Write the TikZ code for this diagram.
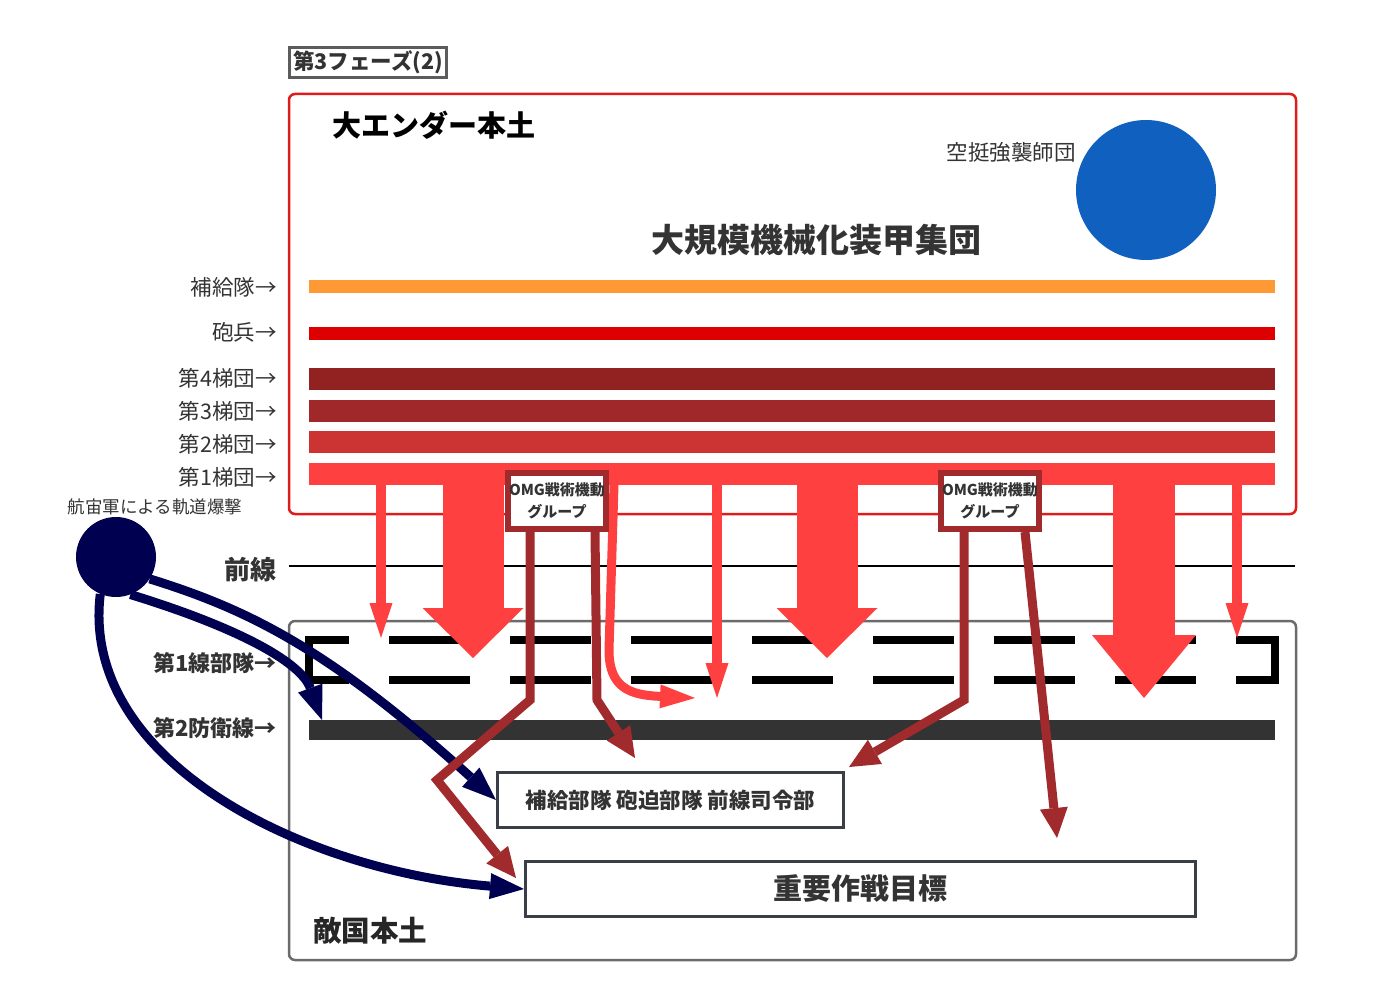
\documentclass[tikz,border=0pt]{standalone}
\usepackage{fontspec}
\setmainfont{Noto Sans CJK JP}
\usepackage{tikz}
\usetikzlibrary{arrows.meta}

\definecolor{ink}{HTML}{333333}
\definecolor{supply}{HTML}{FF9933}
\definecolor{arty}{HTML}{DD0000}
\definecolor{eche4}{HTML}{922222}
\definecolor{eche3}{HTML}{A0282A}
\definecolor{eche2}{HTML}{CC3333}
\definecolor{hot}{HTML}{FF4040}
\definecolor{brick}{HTML}{A12A2C}
\definecolor{navy}{HTML}{000050}
\definecolor{sky}{HTML}{1060C0}
\definecolor{homered}{HTML}{E01B1B}
\definecolor{enemygray}{HTML}{6B6B6B}
\definecolor{boxgray}{HTML}{3A3F47}

\begin{document}
\begin{tikzpicture}[x=1pt,y=-1pt,
    txt/.style={inner sep=0pt,text=ink},
    side/.style={txt,anchor=east,font=\fontsize{21.5}{25}\selectfont},
    sidebf/.style={txt,anchor=east,font=\fontsize{22}{25}\selectfont\bfseries},
    bar/.style={minimum width=966pt,inner sep=0pt,outer sep=0pt},
    box/.style={draw=boxgray,line width=3pt,fill=white,inner sep=0pt,minimum height=55pt,text=ink},
    omg/.style={draw=brick,line width=6pt,fill=white,inner sep=0pt,minimum width=98pt,minimum height=56pt,align=center,text=ink,font=\fontsize{15}{22}\selectfont\bfseries},
    hit/.style={draw=hot,line width=10pt,-{Triangle[width=23pt,length=35pt,line width=0pt]}},
    push/.style={draw=hot,line width=61pt,-{Triangle[width=101pt,length=50pt,line width=0pt]}},
    raid/.style={draw=brick,line width=9pt,-{Triangle[width=28pt,length=30pt,line width=0pt]}},
    orbit/.style={draw=navy,line width=9pt,-{Triangle[width=26pt,length=34pt,line width=0pt]}}]

    \useasboundingbox (0,0) rectangle (1393,1000);

    \node[draw=ink!80,line width=3pt,minimum width=157pt,minimum height=30pt,inner sep=0pt,text=ink,font=\fontsize{21.5}{25}\selectfont\bfseries] (phase) at (368,62.5) {第3フェーズ(2)};

    % home country
    \draw[draw=homered,line width=2.5pt,rounded corners=6pt] (289,94) rectangle (1296,514);
    \node[txt,anchor=west,text=black,font=\fontsize{29}{33}\selectfont\bfseries] (ender) at (332,125) {大エンダー本土};
    \node[side]                                          (abnl) at (1076,152) {空挺強襲師団};
    \node[circle,fill=sky,minimum size=140pt,inner sep=0pt] (abn) at (1146,190) {};
    \node[txt,font=\fontsize{33}{38}\selectfont\bfseries]  (mech) at (816,240) {大規模機械化装甲集団};

    \node[bar,fill=supply,minimum height=13pt] (supply) at (792,286.5) {};
    \node[bar,fill=arty,minimum height=13pt]   (arty)   at (792,333.5) {};
    \node[bar,fill=eche4,minimum height=22pt]  (ech4)   at (792,379)   {};
    \node[bar,fill=eche3,minimum height=22pt]  (ech3)   at (792,411)   {};
    \node[bar,fill=eche2,minimum height=22pt]  (ech2)   at (791.5,442) {};
    \node[bar,fill=hot,minimum height=22pt]    (ech1)   at (792,474)   {};

    \node[side] (supplyl) at (277,287) {補給隊→};
    \node[side] (artyl)   at (277,332) {砲兵→};
    \node[side] (ech4l)   at (277,378) {第4梯団→};
    \node[side] (ech3l)   at (277,411) {第3梯団→};
    \node[side] (ech2l)   at (277,444) {第2梯団→};
    \node[side] (ech1l)   at (277,477) {第1梯団→};

    % front line
    \draw[line width=2.5pt] (289,566) -- (1295,566);
    \node[txt,anchor=east,font=\fontsize{26}{30}\selectfont\bfseries] (front) at (277,570) {前線};

    % enemy country
    \draw[draw=enemygray,line width=2.5pt,rounded corners=6pt] (289,621) rectangle (1296,960);
    \node[txt,anchor=west,text=black!85,font=\fontsize{28.5}{32}\selectfont\bfseries] (enemy) at (313,931) {敵国本土};

    \draw[line width=8pt] (349,640) -- (309,640) -- (309,680) -- (349,680);
    \draw[line width=8pt] (1236,640) -- (1275,640) -- (1275,680) -- (1236,680);
    \draw[line width=8pt,dash pattern=on 81pt off 40pt] (389,640) -- (1196,640);
    \draw[line width=8pt,dash pattern=on 81pt off 40pt] (389,680) -- (1196,680);
    \node[sidebf] (line1) at (277,663) {第1線部隊→};

    \node[bar,fill=ink,minimum height=20pt] (def2) at (792,730) {};
    \node[sidebf] (line2) at (277,728) {第2防衛線→};

    \node[box,minimum width=346pt,font=\fontsize{21.5}{25}\selectfont\bfseries] (hq)  at (670.5,800) {補給部隊 砲迫部隊 前線司令部};
    \node[box,minimum width=670pt,font=\fontsize{29}{33}\selectfont\bfseries] (obj) at (860.5,889) {重要作戦目標};

    % breakthrough
    \coordinate (hit1)  at (381,638);
    \coordinate (hit2)  at (717,698);
    \coordinate (hit3)  at (1237,638);
    \coordinate (push1) at (473,658);
    \coordinate (push2) at (827,658);
    \coordinate (push3) at (1144,698);
    \coordinate (curl)  at (695,698);

    \draw (ech1.south -| 381,0) edge[hit] (hit1);
    \draw (ech1.south -| 717,0) edge[hit] (hit2);
    \draw (ech1.south -| 1237,0) edge[hit] (hit3);
    \draw (ech1.south -| 473,0) edge[push] (push1);
    \draw (ech1.south -| 827,0) edge[push] (push2);
    \draw[push,line width=62pt,-{Triangle[width=104pt,length=63pt,line width=0pt]}] (ech1.south -| 1144,0) -- (push3);
    \draw[hit,line width=9pt,-{Triangle[width=24pt,length=35pt,line width=0pt]}] (ech1.south -| 614,0) -- (609,650) .. controls (609,688) and (630,695) .. (curl);

    % orbital strike
    \node[circle,fill=navy,minimum size=80pt,inner sep=0pt] (orb) at (116,557) {};
    \node[txt,font=\fontsize{17.5}{20}\selectfont] (orbl) at (155,507) {航宙軍による軌道爆撃};

    \draw[orbit] (orb.-33) .. controls (250,610) and (330,650) .. (hq.west);
    \draw[orbit] (orb.-69) .. controls (230,625) and (300,660) .. (def2.north -| 322,0);
    \draw[orbit] (orb.-113) .. controls (80,760) and (300,870) .. (obj.west);

    % OMG
    \node[omg] (omg1) at (557,501) {OMG戦術機動\\グループ};
    \node[omg] (omg2) at (990,501) {OMG戦術機動\\グループ};

    \coordinate (raid1) at (516,878);
    \coordinate (raid2) at (635,758);
    \coordinate (raid4) at (1057,838);

    \draw[raid] (omg1.south -| 530,0) -- (530,700) -- (437,780) -- (raid1);
    \draw[raid] (omg1.south -| 595,0) -- (597,700) -- (raid2);
    \draw[raid] (omg2.south -| 964,0) -- (964,700) -- ([shift={(4,-4)}]hq.north east);
    \draw[raid] (omg2.south -| 1025,0) -- (raid4);
\end{tikzpicture}
\end{document}
